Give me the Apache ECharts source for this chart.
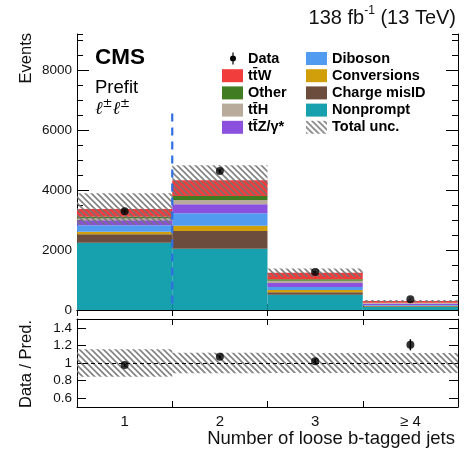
<!DOCTYPE html>
<html>
<head>
<meta charset="utf-8">
<script src="https://cdn.jsdelivr.net/npm/echarts@6/dist/echarts.min.js"></script>
<style>
  html, body { margin: 0; padding: 0; background: #fff; }
  #chart { width: 468px; height: 449px; }
</style>
</head>
<body>
<div id="chart"></div>
<script>
// Bins of loose b-tagged jet multiplicity
const categories = ['1', '2', '3', '≥ 4'];

// Prefit background yields per bin (stacked bottom to top)
const nonprompt   = [2243, 2043, 510, 100];
const chargeMisID = [279, 590, 80, 25];
const conversions = [88, 177, 77, 15];
const diboson     = [213, 413, 100, 30];
const ttZ         = [167, 300, 133, 40];
const ttH         = [67, 144, 77, 20];
const other       = [53, 133, 46, 15];
const ttW         = [257, 523, 220, 55];

// Observed events and their statistical errors
const dataCounts = [3290, 4633, 1267, 362];
const dataErr    = [57, 68, 36, 19];

// Total prediction uncertainty (absolute)
const totalUnc = [523, 500, 140, 34];

// Axis tick values
const eventTicks = [0, 2000, 4000, 6000, 8000];
const ratioTicks = [0.6, 0.8, 1, 1.2, 1.4];

// Category boundary marker (dashed) and its height in events
const markerBin = 0;
const markerTop = 6550;

const FONT = 'Liberation Sans';

const stackDefs = [
  { name: 'Nonprompt',     values: nonprompt,   color: '#17a0ae' },
  { name: 'Charge misID',  values: chargeMisID, color: '#6b4c3d' },
  { name: 'Conversions',   values: conversions, color: '#d19f0a' },
  { name: 'Diboson',       values: diboson,     color: '#519cf0' },
  { name: 'tt\u0304Z/γ*',  values: ttZ,         color: '#8b50dd' },
  { name: 'tt\u0304H',     values: ttH,         color: '#b9ab9b' },
  { name: 'Other',         values: other,       color: '#3f7c22' },
  { name: 'tt\u0304W',     values: ttW,         color: '#f23d3d' }
];

const totals = categories.map((_, i) => stackDefs.reduce((s, d) => s + d.values[i], 0));
const ratio = dataCounts.map((v, i) => v / totals[i]);
const ratioErr = dataErr.map((e, i) => e / totals[i]);
const relUnc = totalUnc.map((u, i) => u / totals[i]);

// Diagonal hatch pattern for the uncertainty bands
function makeHatch() {
  const p = 6;
  const c = document.createElement('canvas');
  c.width = p; c.height = p;
  const ctx = c.getContext('2d');
  ctx.strokeStyle = 'rgba(115,115,115,0.9)';
  ctx.lineWidth = 1.6;
  ctx.beginPath();
  for (let k = -1; k <= 1; k++) {
    ctx.moveTo(k * p - 1, -1);
    ctx.lineTo(k * p + p + 1, p + 1);
  }
  ctx.stroke();
  return { image: c, repeat: 'repeat' };
}
const hatch = makeHatch();

function bandItem(params, api) {
  const i = api.value(0);
  const top = api.coord([i, api.value(2)]);
  const bot = api.coord([i, api.value(1)]);
  const w = api.size([1, 0])[0];
  return {
    type: 'rect',
    shape: { x: top[0] - w / 2, y: top[1], width: w, height: bot[1] - top[1] },
    style: { fill: hatch }
  };
}

function errorBarItem(params, api) {
  const i = api.value(0);
  const hi = api.coord([i, api.value(2)]);
  const lo = api.coord([i, api.value(1)]);
  return {
    type: 'line',
    shape: { x1: hi[0], y1: hi[1], x2: lo[0], y2: lo[1] },
    style: { stroke: '#000', lineWidth: 1.5 }
  };
}

const chart = echarts.init(document.getElementById('chart'), null, { renderer: 'canvas' });

const axisLine = { show: true, lineStyle: { color: '#000', width: 1 } };
const catAxis = (grid, pos, labels) => ({
  type: 'category', gridIndex: grid, position: pos, data: categories,
  boundaryGap: true,
  axisLine: axisLine,
  axisTick: { show: true, inside: true, length: 6, alignWithLabel: false, lineStyle: { color: '#000' } },
  axisLabel: labels ? { show: true, fontFamily: FONT, fontSize: 15, color: '#111', margin: 7 } : { show: false },
  splitLine: { show: false }
});

const eventAxis = (pos, labels) => ({
  type: 'value', gridIndex: 0, position: pos, min: 0, max: 9200,
  axisLine: axisLine,
  axisTick: { show: true, inside: true, length: 12, customValues: eventTicks, lineStyle: { color: '#000' } },
  axisLabel: labels ? {
    show: true, customValues: eventTicks, fontFamily: FONT, fontSize: 13.5, color: '#111', margin: 5,
    formatter: v => String(v)
  } : { show: false },
  splitLine: { show: false }
});
const eventMinorAxis = (pos) => ({
  type: 'value', gridIndex: 0, position: pos, min: 0, max: 9200, interval: 500,
  axisLine: { show: false },
  axisTick: { show: true, inside: true, length: 6, lineStyle: { color: '#000' } },
  axisLabel: { show: false },
  splitLine: { show: false }
});
const ratioAxis = (pos, labels) => ({
  type: 'value', gridIndex: 1, position: pos, min: 0.5, max: 1.5,
  axisLine: axisLine,
  axisTick: { show: true, inside: true, length: 9, customValues: ratioTicks, lineStyle: { color: '#000' } },
  axisLabel: labels ? {
    show: true, customValues: ratioTicks, fontFamily: FONT, fontSize: 13.5, color: '#111', margin: 5,
    formatter: v => String(Math.round(v * 10) / 10)
  } : { show: false },
  splitLine: { show: false }
});

const series = [];
stackDefs.forEach(d => {
  series.push({
    name: d.name, type: 'bar', stack: 'mc', xAxisIndex: 0, yAxisIndex: 0,
    data: d.values, barCategoryGap: '0%', barGap: '0%',
    itemStyle: { color: d.color }, silent: true, z: 2
  });
});

series.push({
  name: 'Total unc.', type: 'custom', xAxisIndex: 0, yAxisIndex: 0, clip: true,
  renderItem: bandItem, itemStyle: { color: hatch },
  data: totals.map((t, i) => [i, t - totalUnc[i], t + totalUnc[i]]), z: 3, silent: true
});

series.push({
  name: 'boundary', type: 'custom', xAxisIndex: 0, yAxisIndex: 0, silent: true, z: 4,
  data: [[markerBin, markerTop]],
  renderItem: (params, api) => {
    const i = api.value(0);
    const w = api.size([1, 0])[0];
    const base = api.coord([i, 0]);
    const top = api.coord([i, api.value(1)]);
    const x = base[0] + w / 2;
    return {
      type: 'line', shape: { x1: x, y1: top[1], x2: x, y2: base[1] },
      style: { stroke: '#2f6fe2', lineWidth: 2.2, lineDash: [8, 6] }
    };
  }
});

series.push({
  name: 'Data', type: 'custom', xAxisIndex: 0, yAxisIndex: 0, silent: true, z: 5,
  renderItem: errorBarItem, itemStyle: { color: '#000' },
  data: dataCounts.map((v, i) => [i, v - dataErr[i], v + dataErr[i]])
});
series.push({
  name: 'Data', type: 'scatter', xAxisIndex: 0, yAxisIndex: 0, silent: true, z: 6,
  symbol: 'circle', symbolSize: 8, itemStyle: { color: '#000' },
  data: dataCounts.map((v, i) => [i, v])
});

// Ratio panel
series.push({
  name: 'Total unc.', type: 'custom', xAxisIndex: 2, yAxisIndex: 4, clip: true,
  renderItem: bandItem, itemStyle: { color: hatch }, silent: true, z: 2,
  data: relUnc.map((r, i) => [i, 1 - r, 1 + r])
});
series.push({
  name: 'Data', type: 'custom', xAxisIndex: 2, yAxisIndex: 4, silent: true, z: 5,
  renderItem: errorBarItem, itemStyle: { color: '#000' },
  data: ratio.map((r, i) => [i, r - ratioErr[i], r + ratioErr[i]])
});
series.push({
  name: 'Data', type: 'scatter', xAxisIndex: 2, yAxisIndex: 4, silent: true, z: 6,
  symbol: 'circle', symbolSize: 8, itemStyle: { color: '#000' },
  data: ratio.map((r, i) => [i, r]),
  markLine: {
    silent: true, symbol: 'none', label: { show: false },
    lineStyle: { color: '#000', type: [4, 3], width: 1 },
    data: [{ yAxis: 1 }]
  }
});

const legendText = { fontFamily: FONT, fontSize: 14.5, fontWeight: 'bold', color: '#000', lineHeight: 13 };
const dataIcon = 'path://M0,0 M21,13 M10.4,0.5 L11.6,0.5 L11.6,12.5 L10.4,12.5 Z M8,6.5 A3,3 0 1,1 14,6.5 A3,3 0 1,1 8,6.5 Z';

const legendBase = {
  orient: 'vertical', top: 51, padding: 0, itemWidth: 21, itemHeight: 13, itemGap: 2.2,
  textStyle: legendText, selectedMode: false
};

const option = {
  animation: false,
  backgroundColor: '#fff',
  grid: [
    { left: 77, right: 10, top: 34, height: 276 },
    { left: 77, right: 10, top: 319, height: 88 }
  ],
  xAxis: [
    catAxis(0, 'bottom', false),
    catAxis(0, 'top', false),
    catAxis(1, 'bottom', true),
    catAxis(1, 'top', false)
  ],
  yAxis: [
    eventAxis('left', true),
    eventAxis('right', false),
    eventMinorAxis('left'),
    eventMinorAxis('right'),
    ratioAxis('left', true),
    ratioAxis('right', false)
  ],
  legend: [
    Object.assign({}, legendBase, {
      left: 222,
      data: [
        { name: 'Data', icon: dataIcon, itemStyle: { color: '#000' } },
        { name: 'tt\u0304W', icon: 'rect' },
        { name: 'Other', icon: 'rect' },
        { name: 'tt\u0304H', icon: 'rect' },
        { name: 'tt\u0304Z/γ*', icon: 'rect' }
      ]
    }),
    Object.assign({}, legendBase, {
      left: 306,
      data: [
        { name: 'Diboson', icon: 'rect' },
        { name: 'Conversions', icon: 'rect' },
        { name: 'Charge misID', icon: 'rect' },
        { name: 'Nonprompt', icon: 'rect' },
        { name: 'Total unc.', icon: 'rect' }
      ]
    })
  ],
  graphic: [
    { type: 'text', left: 95, top: 46, style: { text: 'CMS', font: 'bold 22.5px "Liberation Sans"', fill: '#000' } },
    { type: 'text', left: 95, top: 78, style: { text: 'Prefit', font: '18.5px "Liberation Sans"', fill: '#000' } },
    {
      type: 'text', left: 95, top: 98,
      style: {
        text: '{l|ℓ}{s|±}{l|ℓ}{s|±}',
        rich: {
          l: { fontFamily: 'DejaVu Serif', fontStyle: 'italic', fontSize: 18, fill: '#000', lineHeight: 20, verticalAlign: 'bottom' },
          s: { fontFamily: 'DejaVu Serif', fontSize: 12, fill: '#000', lineHeight: 20, verticalAlign: 'top' }
        }
      }
    },
    {
      type: 'text', right: 12, top: 5,
      style: {
        text: '{m|138 fb}{s|-1}{m| (13 TeV)}',
        rich: {
          m: { fontFamily: FONT, fontSize: 20, fill: '#111', lineHeight: 23, verticalAlign: 'bottom' },
          s: { fontFamily: FONT, fontSize: 12, fill: '#111', lineHeight: 23, verticalAlign: 'top' }
        }
      }
    },
    { type: 'text', x: 18, y: 33, rotation: Math.PI / 2, style: { text: 'Events', font: '16.5px "Liberation Sans"', fill: '#111', align: 'right', verticalAlign: 'top' } },
    { type: 'text', x: 18, y: 364, rotation: Math.PI / 2, style: { text: 'Data / Pred.', font: '16.5px "Liberation Sans"', fill: '#111', align: 'center', verticalAlign: 'top' } },
    { type: 'text', right: 13, top: 429, style: { text: 'Number of loose b-tagged jets', font: '18.5px "Liberation Sans"', fill: '#111' } }
  ],
  series: series
};

chart.setOption(option);
</script>
</body>
</html>
